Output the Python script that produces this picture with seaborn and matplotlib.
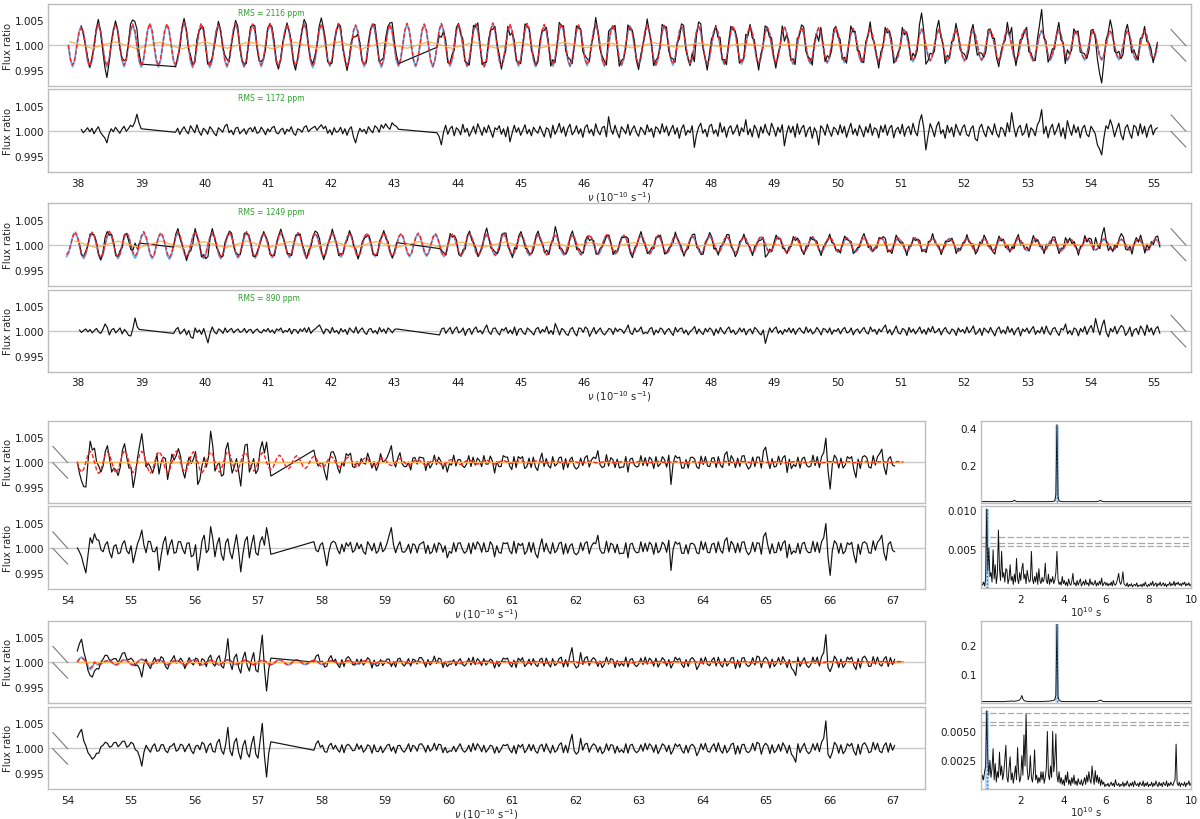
import numpy as np
import matplotlib
matplotlib.use("Agg")
import matplotlib.pyplot as plt
from matplotlib.ticker import MultipleLocator, FormatStrFormatter
import seaborn as sns

sns.set_theme(style="white")
plt.rcParams['font.family'] = ['DejaVu Sans']
plt.rcParams['mathtext.fontset'] = 'dejavusans'

# ==========================================
# DATA  (flux offsets from 1, in units of 1e-4)
# ==========================================
STEP = 0.033875                     # sampling step in nu (10^-10 s^-1)
A_START, C_START, E_START = 37.847, 37.818, 54.151
N_A, N_C, N_E = 509, 511, 385

# sine-fit models: successive extrema and the shoulder value next to each one
red_a_ext = [-40, 36, -42, 44, -41, 42, -40, 43, -42, 44,
             -41, 43, -40, 46, -42, 44, -43, 42, -41, 45,
             -42, 43, -40, 44, -42, 42, -41, 45, -43, 43,
             -40, 44, -42, 41, -41, 45, -42, 42, -40, 44,
             -41, 43, -42, 44, -40, 42, -41, 43, -42, 45,
             -41, 42, -40, 44, -41, 42, -40, 43, -41, 41,
             -39, 42, -40, 41, -39, 40, -38, 41, -39, 40,
             -38, 39, -37, 40, -38, 38, -37, 39, -36, 38,
             -36, 37, -35, 38, -36, 36, -35, 36, -34, 35,
             -33, 34, -33, 33, -32, 34, -31, 32, -31, 33,
             -30, 32, -31, 31, -30, 32, -29, 31, -30, 30,
             -29, 31, -30, 30, -28, 31, -29, 29, -28, 30,
             -28, 29, -27, 30, -28, 29, -27]
red_a_sh = [-28, 26, -30, 31, -29, 30, -28, 31, -30, 31,
            -29, 31, -28, 33, -30, 31, -31, 30, -29, 32,
            -30, 31, -28, 31, -30, 30, -29, 32, -31, 31,
            -28, 31, -30, 29, -29, 32, -30, 30, -28, 31,
            -29, 31, -30, 31, -28, 30, -29, 31, -30, 32,
            -29, 30, -28, 31, -29, 30, -28, 31, -29, 29,
            -28, 30, -28, 29, -28, 28, -27, 29, -28, 28,
            -27, 28, -26, 28, -27, 27, -26, 28, -26, 27,
            -26, 26, -25, 27, -26, 26, -25, 26, -24, 25,
            -23, 24, -23, 23, -23, 24, -22, 23, -22, 23,
            -21, 23, -22, 22, -21, 23, -21, 22, -21, 21,
            -21, 22, -21, 21, -20, 22, -21, 21, -20, 21,
            -20, 21, -19, 21, -20, 21, -19]
blue_a_ext = [-43, 38, -45, 41, -44, 44, -43, 40, -44, 42,
              -44, 41, -43, 44, -45, 42, -45, 40, -44, 43,
              -44, 41, -43, 42, -44, 40, -43, 43, -45, 41,
              -42, 42, -44, 39, -43, 43, -44, 40, -42, 42,
              -43, 41, -44, 42, -42, 40, -43, 41, -44, 43,
              -43, 40, -42, 42, -43, 40, -42, 41, -43, 39,
              -41, 40, -42, 39, -41, 38, -40, 39, -41, 38,
              -40, 37, -39, 38, -40, 36, -39, 37, -38, 36,
              -38, 35, -37, 36, -38, 34, -37, 34, -36, 33,
              -35, 32, -35, 31, -34, 32, -33, 30, -33, 31,
              -32, 30, -33, 29, -32, 30, -31, 29, -32, 28,
              -31, 29, -32, 28, -30, 29, -31, 27, -30, 28,
              -30, 27, -29, 28, -30, 27, -29]
blue_a_sh = [-30, 27, -32, 29, -31, 31, -30, 28, -31, 30,
             -31, 29, -30, 31, -32, 30, -32, 28, -31, 30,
             -31, 29, -30, 30, -31, 28, -30, 30, -32, 29,
             -30, 30, -31, 28, -30, 30, -31, 28, -30, 30,
             -30, 29, -31, 30, -30, 28, -30, 29, -31, 30,
             -30, 28, -30, 30, -30, 28, -30, 29, -30, 28,
             -29, 28, -30, 28, -29, 27, -28, 28, -29, 27,
             -28, 26, -28, 27, -28, 26, -28, 26, -27, 26,
             -27, 25, -26, 26, -27, 24, -26, 24, -26, 23,
             -25, 23, -25, 22, -24, 23, -23, 21, -23, 22,
             -23, 21, -23, 21, -23, 21, -22, 21, -23, 20,
             -22, 21, -23, 20, -21, 21, -22, 19, -21, 20,
             -21, 19, -21, 20, -21, 19, -21]
red_c_ext = [-20, 26, -24, 25, -26, 27, -25, 24, -23, 26,
             -25, 24, -26, 25, -24, 26, -25, 24, -26, 25,
             -24, 26, -25, 23, -24, 25, -23, 24, -25, 23,
             -24, 24, -23, 22, -24, 23, -22, 24, -23, 22,
             -22, 23, -21, 22, -22, 21, -22, 22, -21, 21,
             -21, 22, -20, 21, -21, 20, -20, 21, -19, 20,
             -20, 19, -19, 20, -18, 19, -19, 18, -18, 19,
             -17, 18, -18, 17, -17, 18, -16, 17, -17, 16,
             -16, 17, -15, 16, -16, 15, -15, 16, -14, 15,
             -15, 14, -14, 15, -13, 14, -14, 13, -13, 14,
             -13, 13, -12, 13, -13, 12, -12, 13, -12, 12,
             -12, 13, -11, 12, -12, 11, -12, 12, -11, 12,
             -11, 12, -12, 11, -11, 12, -11, 11]
red_c_sh = [-14, 18, -17, 18, -18, 19, -18, 17, -16, 18,
            -18, 17, -18, 18, -17, 18, -18, 17, -18, 18,
            -17, 18, -18, 16, -17, 18, -16, 17, -18, 16,
            -17, 17, -16, 16, -17, 16, -16, 17, -16, 16,
            -16, 16, -15, 16, -16, 15, -16, 16, -15, 15,
            -15, 16, -14, 15, -15, 14, -14, 15, -13, 14,
            -14, 13, -13, 14, -13, 13, -13, 13, -13, 13,
            -12, 13, -13, 12, -12, 13, -11, 12, -12, 11,
            -11, 12, -11, 11, -11, 11, -11, 11, -10, 11,
            -11, 10, -10, 11, -9, 10, -10, 9, -9, 10,
            -9, 9, -9, 9, -9, 9, -9, 9, -9, 9,
            -9, 9, -8, 9, -9, 8, -9, 9, -8, 9,
            -8, 9, -9, 8, -8, 9, -8, 8]
blue_c_ext = [-24, 22, -28, 22, -29, 23, -28, 22, -27, 22,
              -28, 21, -29, 22, -27, 23, -28, 21, -28, 22,
              -27, 23, -27, 21, -26, 22, -26, 22, -27, 21,
              -26, 22, -25, 21, -25, 21, -24, 22, -25, 21,
              -24, 21, -23, 20, -24, 20, -23, 21, -23, 19,
              -22, 20, -22, 19, -22, 19, -21, 19, -21, 18,
              -21, 18, -20, 18, -19, 18, -20, 17, -19, 17,
              -18, 17, -18, 16, -18, 16, -17, 16, -17, 15,
              -17, 15, -16, 15, -16, 14, -16, 14, -15, 14,
              -15, 13, -15, 13, -14, 13, -14, 12, -14, 12,
              -13, 12, -13, 12, -13, 11, -13, 11, -12, 11,
              -12, 11, -12, 11, -12, 10, -12, 11, -11, 10,
              -11, 10, -11, 10, -11, 10, -11, 10]
blue_c_sh = [-17, 16, -20, 16, -21, 16, -20, 16, -19, 16,
             -20, 15, -21, 16, -19, 16, -20, 15, -20, 16,
             -19, 16, -19, 15, -18, 16, -18, 16, -19, 15,
             -18, 16, -18, 15, -18, 15, -17, 16, -18, 15,
             -17, 15, -16, 14, -17, 14, -16, 15, -16, 13,
             -16, 14, -16, 13, -16, 13, -15, 13, -15, 13,
             -15, 13, -14, 13, -13, 13, -14, 12, -13, 12,
             -13, 12, -13, 11, -13, 11, -12, 11, -12, 11,
             -12, 11, -11, 11, -11, 10, -11, 10, -11, 10,
             -11, 9, -11, 9, -10, 9, -10, 9, -10, 9,
             -9, 9, -9, 9, -9, 8, -9, 8, -9, 8,
             -9, 8, -9, 8, -9, 7, -9, 8, -8, 7,
             -8, 7, -8, 7, -8, 7, -8, 7]
red_e_ext = [-20, 22, -23, 21, -22, 23, -21, 22, -22, 21,
             -21, 22, -20, 21, -21, 20, -20, 21, -19, 20,
             -18, 19, -15, 14, -14, 13, -13, 12, -11, 11,
             -10, 10, -9, 9, -8, 8, -7, 7, -7, 6,
             -6, 6, -5, 5, -5, 4, -4, 4, -4, 3,
             -3, 3, -3, 3, -2, 2, -2, 2, -2, 2,
             -2, 2, -1, 1, -1, 1, -1, 1, -1, 1,
             -1, 1, -1, 1, -1, 1, -1, 1, -1, 1,
             -1, 1, -1, 1, -1, 1, -1, 1, -1, 1,
             -1, 1, -1, 1, -1, 1]
red_e_sh = [-14, 15, -16, 15, -15, 16, -15, 15, -15, 15,
            -15, 15, -14, 15, -15, 14, -14, 15, -13, 14,
            -13, 13, -11, 10, -10, 9, -9, 8, -8, 8,
            -7, 7, -6, 6, -6, 6, -5, 5, -5, 4,
            -4, 4, -4, 4, -4, 3, -3, 3, -3, 2,
            -2, 2, -2, 2, -1, 1, -1, 1, -1, 1,
            -1, 1, -1, 1, -1, 1, -1, 1, -1, 1,
            -1, 1, -1, 1, -1, 1, -1, 1, -1, 1,
            -1, 1, -1, 1, -1, 1, -1, 1, -1, 1,
            -1, 1, -1, 1, -1, 1]
red_g_ext = [8, -12, -4, 3, -5, 5, -6, 6, -5, 5,
             -5, 4, -6, 5, -5, 4, -5, 5, -4, 4,
             -5, 4, -5, 5, -5, 5, -4, 4, -4, 3,
             -3, 3, -3, 3, -3, 2, -3, 2, -2, 2,
             -2, 2, -2, 2, -2, 2, -2, 2, -2, 1,
             -1, 1, -2, 1, -1, 1, -1, 1, -1, 1,
             -1, 1, -1, 1, -1, 1, -1, 1, -1, 1,
             -1, 1, -1, 1, -1, 1, -1, 1, -1, 1,
             -1, 1, -1, 1, -1, 1, -1, 1, -1, 1,
             -1, 1, -1, 1, -1, 1]
red_g_sh = [6, -8, -3, 2, -4, 4, -4, 4, -4, 4,
            -4, 3, -4, 4, -4, 3, -4, 4, -3, 3,
            -4, 3, -4, 4, -4, 4, -3, 3, -3, 2,
            -2, 2, -2, 2, -2, 1, -2, 1, -1, 1,
            -1, 1, -1, 1, -1, 1, -1, 1, -1, 1,
            -1, 1, -1, 1, -1, 1, -1, 1, -1, 1,
            -1, 1, -1, 1, -1, 1, -1, 1, -1, 1,
            -1, 1, -1, 1, -1, 1, -1, 1, -1, 1,
            -1, 1, -1, 1, -1, 1, -1, 1, -1, 1,
            -1, 1, -1, 1, -1, 1]
blue_g_ext = [10, -15, -6, 2, -6, 4, -7, 5, -6, 4,
              -6, 3, -7, 4, -6, 3, -6, 4, -5, 3,
              -6, 3, -6, 4, -6, 4, -5, 3, -5, 2,
              -4, 2, -4, 2, -4, 1, -4, 1, -3, 1,
              -3, 1, -3, 1, -3, 1, -3, 1, -2, 1,
              -2, 0, -2, 0, -2, 0, -2, 0, -2, 0,
              -1, 0, -1, 0, -1, 0, -1, 0, -1, 0,
              -1, 0, -1, 0, -1, 0, -1, 0, -1, 0,
              -1, 0, -1, 0, -1, 0, -1, 0, -1, 0,
              -1, 0, -1, 0, -1, 0]
blue_g_sh = [7, -11, -4, 1, -4, 3, -5, 4, -4, 3,
             -4, 2, -5, 3, -4, 2, -4, 3, -4, 2,
             -4, 2, -4, 3, -4, 3, -4, 2, -4, 1,
             -3, 1, -3, 1, -3, 1, -3, 1, -2, 1,
             -2, 1, -2, 1, -2, 1, -2, 1, -1, 1,
             -1, 0, -1, 0, -1, 0, -1, 0, -1, 0,
             -1, 0, -1, 0, -1, 0, -1, 0, -1, 0,
             -1, 0, -1, 0, -1, 0, -1, 0, -1, 0,
             -1, 0, -1, 0, -1, 0, -1, 0, -1, 0,
             -1, 0, -1, 0, -1, 0]

# slow (orange) component, extrema every half period
ORANGE_A_START, ORANGE_A_STEP = 37.87, 0.355
ORANGE_C_START, ORANGE_C_STEP = 37.95, 0.34
orange_a = [7, -6, 7, -7, 6, -7, 7, -6, 7, -7, 6, -6, 7, -7, 6, -6, 7, -6, 6, -6,
            6, -5, 6, -5, 5, -5, 5, -4, 4, -3, 3, -2, 2, -2, 2, -1, 1, -1, 1, -1,
            1, -1, 1, -1, 1, -1, 1, -1, 1]
orange_c = [7, -6, 7, -6, 7, -7, 6, -6, 7, -6, 6, -6, 6, -6, 6, -5, 6, -5, 5, -5,
            5, -5, 5, -4, 4, -4, 4, -3, 3, -3, 3, -3, 2, -2, 2, -2, 2, -1, 1, -1,
            1, -1, 1, -1, 1, -1, 1, -1, 1, -1, 1]
orange_flat = 0

N_ = None
# residuals after subtracting the model (None = no data)
resid_b = [N_, N_, N_, N_, N_, N_, 3, -4, 1, 6, -2, 5, -6, 2, 8, -3, -9, -14, -24, -6,
           4, -2, 7, 1, -5, 3, 9, -1, 4, 11, 8, 17, 33, 15, 4, N_, N_, N_, N_, N_,
           N_, N_, N_, N_, N_, N_, N_, N_, N_, N_, -3, 5, -7, 2, 8, -1, -6, 10, 3, -4,
           12, -2, -9, 5, 1, -7, 8, 3, -5, -10, 6, 2, -3, 9, 13, -4, 1, -8, 5, 7,
           -6, -1, 4, -7, 3, 6, -2, 8, -5, -3, 7, 1, -8, 4, -2, 6, 9, -4, -6, 2,
           5, -7, 3, -1, 8, -5, -9, 4, 2, -3, 7, 10, -2, 3, 6, 9, 1, 7, 12, 4,
           9, -5, 2, -8, 6, -3, -1, 7, -6, 4, -9, 3, 8, -12, -24, -7, 5, -2, 3, -6,
           8, 1, -4, 10, 6, -3, 12, 5, 14, 7, 3, 16, 11, 9, 3, N_, N_, N_, N_, N_,
           N_, N_, N_, N_, N_, N_, N_, N_, N_, N_, N_, N_, -4, -12, -28, -3, 11, -7, 4, 9,
           -10, 6, 2, -8, 13, -3, 5, -11, -2, 9, -6, 14, 3, -9, 7, -4, 11, -1, -13, 6,
           2, 10, -7, 4, -12, 8, -22, -5, 11, -3, 6, -9, 1, 12, -6, 3, -10, 7, 0, -5,
           9, -2, -12, 6, 3, -14, 11, -7, 2, 15, -4, 8, -11, 5, 13, -8, -2, 10, -6, 4,
           -13, 7, 12, -5, 3, -10, 14, -1, -8, 6, 9, -12, 28, 4, -7, 11, -3, -14, 8, 2,
           -6, 13, -9, 3, 10, -4, -11, 7, 1, -8, 12, -2, 5, -13, 8, 4, -6, 14, -3, 9,
           -10, 2, 11, -7, 6, -15, 4, 12, -9, 1, -4, 10, -33, -8, 7, 15, -5, 3, -12, 9,
           13, -6, 2, -11, 16, -3, 8, -13, 5, 10, -7, 1, 12, -10, 6, -2, 22, -8, 4, -12,
           11, 3, -14, 8, -5, 13, -2, -9, 15, 4, -11, 7, -3, 12, -30, -6, 10, -4, 9, -13,
           14, -7, 5, 11, -12, 2, 8, -15, 6, -3, -28, 10, 4, -9, 13, -1, -11, 7, 3, -8,
           12, -5, 9, -13, 2, 15, -7, 4, -10, 11, 1, -12, 8, -4, 14, -9, 6, 3, -14, 10,
           -3, 12, -9, 5, 11, -14, 2, 7, -6, 13, -11, 4, 9, -8, 15, -2, -10, 18, 32, 6,
           -38, -10, 14, 3, -12, 9, 18, -6, 2, -15, 11, -4, 7, -12, 13, 1, -9, 6, 12, -7,
           -11, 4, 10, -16, -20, 6, 13, -3, -12, 9, 2, -8, 14, -5, -13, 7, 3, -11, 16, -2,
           36, 8, -12, 5, 11, -9, -3, 14, -13, 6, 1, -10, 12, 20, 42, -6, 9, -14, 4, 13,
           -8, 2, 15, -11, 6, -16, 20, 3, -9, 12, -4, 8, -14, 5, 11, -7, -12, 9, 2, -6,
           -28, -36, -48, -15, 10, 4, 22, 9, -12, 3, 15, -8, -18, 6, 12, -4, -15, 11, 7, -10,
           14, -6, 9, -13, 5, 12, -8, 3, 6]
resid_d = [N_, N_, N_, N_, N_, N_, 2, -3, 1, 4, -2, 3, -4, 1, 5, -2, -5, 3, 14, 7,
           -8, 2, 5, -4, 1, 6, -6, 3, -2, -9, -10, 5, 26, 8, 3, N_, N_, N_, N_, N_,
           N_, N_, N_, N_, N_, N_, N_, N_, N_, N_, -5, 3, 7, -6, -2, 4, -8, 1, -12, -15,
           6, -3, 2, -7, 5, -10, -24, -4, 8, -2, -6, 4, 1, -5, 6, -3, 2, 5, -4, 1,
           4, -3, -1, 5, -4, 2, 3, -5, 1, 4, -2, -4, 3, -1, 5, -3, 2, -5, 4, 1,
           6, -4, 1, -2, 5, -6, 3, 2, -5, 4, -1, 6, -3, 7, -5, 1, 4, 8, 12, 3,
           -6, 4, 2, -5, 7, -3, 1, -6, 5, -2, 3, -7, 6, 1, -4, 8, -5, 2, 6, -3,
           -7, 3, 5, -4, 1, -6, 7, -2, 4, -5, 6, 2, -4, 3, 4, N_, N_, N_, N_, N_,
           N_, N_, N_, N_, N_, N_, N_, N_, N_, N_, N_, N_, N_, N_, -8, 4, 6, -5, 2, 7,
           -6, 3, 8, -4, -1, 6, -9, 2, 5, -7, 3, 8, -3, 1, -6, 4, 12, -2, -7, 5,
           6, -3, -8, 4, 1, 7, -5, 2, -6, 8, -9, 3, 5, -4, -7, 6, 2, -3, -8, 4,
           7, -5, 3, -2, 9, -6, 1, -7, 15, 4, -8, 5, 2, -6, -9, 3, 7, -4, -10, 6,
           5, -3, 8, 4, -11, -2, 7, -6, 1, 6, -4, -8, -2, 5, 3, -7, 6, -1, 4, 2,
           -5, 3, 12, -4, -7, 6, -2, 1, 8, -6, -3, -5, 4, 7, -8, 2, -4, 6, 3, -7,
           1, 5, -3, -9, 7, -2, 4, 6, -5, 2, -8, -1, 3, 9, -6, 4, -3, -7, 5, -2,
           6, 2, -9, 4, -5, 7, -1, -6, 3, 8, -4, 2, -7, -3, 6, -2, 5, -8, 1, 4,
           -6, 7, 3, -4, -8, 2, -25, -9, 6, -3, 4, 8, -5, 1, -7, 3, -2, 6, -4, 5,
           -7, 2, 6, -1, -5, 8, -3, 4, -6, -2, 7, 1, -8, 5, 3, -4, 6, -7, 2, -1,
           5, -6, 3, 7, -4, -2, 6, -8, 1, 4, -5, 2, 7, -3, -6, 8, -1, 3, -7, 4,
           -2, 6, 12, -5, 3, -8, 1, 10, -4, -6, 5, 2, -9, 7, -3, 4, -6, 1, 8, -5,
           3, -7, 6, -2, 9, -4, -1, 5, -8, 2, 7, -3, -6, 4, 1, -9, 6, -2, 3, -5,
           8, -4, 2, 10, -7, -3, 5, -9, 6, 1, -4, 7, -2, -10, 3, 8, -5, 2, -6, 9,
           -3, 5, -8, 2, 7, -10, 4, -1, 6, -5, 3, 9, -7, 1, -4, 8, -6, 10, -2, -8,
           4, 7, -3, -9, 5, 2, 14, -6, 1, -8, 6, 3, -10, 5, -2, 9, -7, 4, 11, -3,
           25, 6, -8, 10, 22, -3, -12, 5, -2, 9, -6, 4, 11, 7, -9, -3, 8, -11, 2, 5,
           -7, 10, 3, -9, 12, -2, 6, -8, 4, 9, -5]
resid_f = [0, -8, -18, -35, -50, -14, 20, 9, 28, 16, 15, -4, -8, 6, 12, -9, -20, 3, 6, -12,
           -10, 8, 14, -6, -12, 4, -30, -11, 8, 19, 35, 5, -10, 13, 12, -7, -8, 2, -45, -15,
           10, 22, -14, 5, 16, -11, -9, 12, 12, -3, -12, 9, 10, -18, -15, 6, -45, -20, 14, 25,
           -10, -4, 42, 18, -18, 7, 20, -14, -25, 10, 18, -9, -22, 3, 26, -6, -48, -12, 14, 22,
           -20, 6, 25, -10, -15, 12, 22, 5, 40, 16, -13, N_, N_, N_, N_, N_, N_, N_, N_, N_,
           N_, N_, N_, N_, N_, N_, N_, N_, N_, N_, 12, -5, -8, 6, 10, -12, -36, -8, 9, 13,
           10, -4, -12, 7, -8, 10, 3, 11, -9, -5, 10, -2, 7, -8, -13, 12, 4, -6, 9, -11,
           -6, 11, -8, -3, 9, 25, 40, 6, -10, 3, 12, -8, -9, -4, 7, -11, 8, 5, -10, 6,
           9, 12, -11, 5, -12, -8, 8, -9, 10, 6, -9, 4, -20, -7, -11, 10, -8, 9, 10, -3,
           -11, -7, 9, -12, 10, -3, 12, 6, -9, 10, -8, -7, 12, 5, -18, 4, -9, -11, 10, 8,
           10, -6, -12, 13, -11, 9, 4, 9, -13, -7, 11, -9, 10, -12, -20, 2, 18, -8, 9, -6,
           -12, 10, -10, -5, 9, 11, -13, 8, -11, 4, 8, -10, -14, -9, 10, -6, 9, 12, -12, 3,
           10, 8, 25, -4, -11, -10, 13, -9, 9, 6, -10, 7, -12, -11, -11, 10, -20, 7, 9, -5,
           -10, -9, 12, -8, 9, -7, 11, 6, -13, 10, -10, -5, 11, 6, -9, 15, -45, -3, 12, 7,
           10, -11, -11, 6, -12, 8, 9, 5, -10, -12, 13, -4, 11, -9, -10, 7, 9, -10, 12, -5,
           -11, 14, 20, -8, 13, 6, -10, 9, -9, 11, 12, -6, -14, -8, 11, -8, 10, 9, -13, 22,
           30, 5, -12, 8, -10, -9, 11, -6, 9, 14, -20, 7, -13, -6, -10, 9, -12, 8, 11, -5,
           -10, -9, 13, -8, 11, -10, 12, 20, 48, -18, -55, -6, 14, 8, -11, 9, -12, -7, 10, 6,
           11, -14, -30, 7, -13, 9, 12, 8, -10, -11, 14, -5, 11, 16, 25, -10, -25, 7, 12, -5,
           -8, N_, N_, N_, N_]
resid_h = [22, 31, 38, 15, 5, -9, -15, -22, -18, -10, -10, 3, 6, 12, 10, 2, 4, 11, 12, 3,
           8, 14, 14, 2, 5, 12, 9, -3, -6, -18, -36, -8, 6, -2, -8, 4, 9, -6, -5, 7,
           7, -5, -9, 3, 5, 10, -6, -3, 8, 6, -7, 2, 9, -5, -11, 4, 6, -3, 12, 8,
           -9, 5, 10, -6, -8, 11, 18, -4, -12, 8, 42, -5, -15, 12, 20, -8, -22, 5, 16, -10,
           -18, 8, 24, -12, -20, 15, 50, -15, -58, -10, 13, N_, N_, N_, N_, N_, N_, N_, N_, N_,
           N_, N_, N_, N_, N_, N_, N_, N_, N_, N_, -4, 9, 15, 2, 6, -7, -8, 5, 10, -2,
           6, -3, -8, 7, -9, 5, 8, 3, -5, -4, 9, -2, 6, -8, -3, 7, 4, -10, 7, -6,
           -7, 4, -9, -2, 6, 8, -6, 3, -10, 5, 6, -4, -8, -1, 9, -7, 6, 3, -6, 8,
           9, 3, -8, 6, -6, -2, 10, -4, 8, 7, -9, 2, -9, -5, -6, 4, -7, 2, 9, -3,
           -8, -4, 6, -7, 10, -4, 9, 3, -7, 6, -8, -2, 6, 4, -10, 3, -9, -2, 7, 5,
           8, -3, -9, 5, -11, 7, 2, 8, -9, -3, 8, -5, 7, -6, -10, 4, 8, -7, 9, -2,
           -10, 6, -8, -4, 7, 11, -9, 6, -9, 12, 28, -5, -12, -7, 20, -4, 8, 10, -8, 3,
           9, 5, -8, 3, -11, -6, 9, -5, 7, 6, -10, 4, -8, -3, -9, 9, -10, 6, 8, -4,
           -9, -5, 7, -6, 10, -3, 9, 4, -8, 7, -11, -2, 9, 5, -7, 6, -12, -4, 9, 3,
           8, -4, -10, 6, -9, 5, 8, 2, -15, -6, 9, -3, 10, -6, -8, 3, 9, -7, 11, -4,
           -10, 6, -9, -3, 8, 10, -12, 5, -11, 7, 8, -6, -9, -4, 10, -5, 12, 9, -12, 4,
           10, 5, -11, 7, -9, -4, 8, -6, 11, 3, -10, 6, -12, -18, -28, 9, -9, 2, 10, -5,
           -11, -6, 9, -4, 10, -7, 12, 20, 55, -12, -20, -8, 12, 6, -10, 7, -11, -5, 9, 4,
           10, -6, -14, 8, -12, 7, 11, 4, -9, -7, 12, -3, 10, -6, -9, 5, 11, -8, 10, -4,
           6, N_, N_, N_, N_]
rms_ppm = [2116, 1172, 1249, 890]

# periodograms: period grid (10^10 s) and power
P_START, P_STEP, N_P = 0.15, 0.05, 198
pow_1 = [1, 1, 1, 2, 1, 1, 1, 1, 1, 1, 1, 1, 1, 1, 1, 1, 1, 1, 1, 1,
         1, 1, 1, 1, 1, 1, 1, 1, 2, 2, 4, 9, 4, 2, 1, 1, 1, 1, 1, 1,
         1, 1, 1, 1, 1, 1, 1, 1, 1, 1, 1, 1, 1, 1, 1, 1, 1, 1, 1, 1,
         1, 1, 1, 1, 1, 2, 2, 2, 3, 6, 40, 420, 30, 5, 3, 2, 1, 1, 1, 1,
         1, 1, 1, 1, 1, 1, 1, 1, 1, 1, 1, 1, 1, 1, 1, 1, 1, 1, 1, 1,
         1, 1, 1, 1, 1, 1, 1, 1, 1, 2, 3, 5, 8, 4, 2, 1, 1, 1, 1, 1,
         1, 1, 1, 1, 1, 1, 1, 1, 1, 1, 1, 1, 1, 1, 1, 1, 1, 1, 1, 1,
         1, 1, 1, 1, 1, 1, 1, 1, 1, 1, 1, 1, 1, 1, 1, 1, 1, 1, 1, 1,
         1, 1, 1, 1, 1, 1, 1, 1, 1, 1, 1, 1, 1, 1, 1, 1, 1, 1, 1, 1,
         1, 1, 1, 1, 1, 1, 1, 1, 1, 1, 1, 1, 1, 1, 1, 1, 1, 1]          # 1e-3
pow_2 = [6, 4, 8, 3, 12, 101, 22, 52, 15, 20, 8, 49, 12, 30, 6, 18, 74, 25, 10, 47,
         14, 20, 8, 25, 23, 6, 12, 30, 10, 15, 5, 18, 8, 38, 12, 6, 20, 10, 25, 32,
         12, 18, 6, 23, 14, 8, 10, 47, 12, 6, 15, 8, 20, 5, 25, 10, 6, 14, 8, 12,
         32, 10, 6, 18, 5, 12, 8, 15, 6, 10, 20, 47, 12, 5, 8, 4, 15, 6, 10, 4,
         8, 3, 12, 6, 4, 9, 19, 5, 7, 3, 10, 4, 8, 12, 3, 6, 9, 4, 11, 5,
         7, 3, 12, 5, 8, 4, 6, 10, 3, 7, 4, 9, 5, 13, 3, 6, 8, 4, 7, 3,
         6, 4, 8, 3, 10, 5, 4, 7, 12, 19, 8, 5, 10, 21, 6, 4, 3, 7, 2, 5,
         3, 6, 2, 4, 5, 3, 7, 2, 4, 3, 5, 2, 6, 3, 8, 4, 2, 5, 3, 7,
         4, 9, 3, 5, 7, 2, 6, 4, 8, 3, 5, 7, 3, 6, 2, 5, 4, 8, 3, 6,
         4, 9, 3, 7, 5, 8, 4, 6, 3, 7, 5, 8, 3, 6, 4, 7, 3, 5]          # 1e-4
pow_3 = [3, 3, 3, 3, 3, 3, 3, 3, 3, 3, 3, 3, 3, 3, 3, 3, 3, 3, 3, 3,
         3, 3, 3, 3, 4, 4, 4, 4, 5, 5, 4, 4, 5, 5, 6, 7, 9, 14, 24, 12,
         7, 5, 4, 4, 3, 3, 3, 3, 3, 3, 3, 3, 3, 3, 3, 3, 3, 3, 3, 4,
         4, 4, 4, 4, 5, 5, 6, 6, 7, 10, 25, 270, 20, 8, 5, 4, 3, 3, 3, 3,
         3, 3, 3, 3, 3, 3, 3, 3, 3, 3, 3, 3, 3, 3, 3, 3, 3, 3, 3, 3,
         3, 3, 3, 3, 3, 3, 3, 3, 3, 4, 5, 7, 8, 6, 4, 3, 3, 3, 3, 3,
         3, 3, 3, 3, 3, 3, 3, 3, 3, 3, 3, 3, 3, 3, 3, 3, 3, 3, 3, 3,
         3, 3, 3, 3, 3, 3, 3, 3, 3, 3, 3, 3, 3, 3, 3, 3, 3, 3, 3, 3,
         3, 3, 3, 3, 3, 3, 3, 3, 3, 3, 3, 3, 3, 3, 3, 3, 3, 3, 3, 3,
         3, 3, 3, 3, 3, 3, 3, 3, 3, 3, 3, 3, 3, 3, 3, 3, 3, 3]          # 1e-3
pow_4 = [5, 12, 8, 15, 20, 68, 26, 12, 25, 10, 18, 35, 8, 22, 6, 15, 10, 32, 12, 20,
         8, 14, 25, 38, 10, 6, 18, 28, 8, 14, 5, 12, 20, 8, 36, 15, 6, 10, 29, 12,
         47, 20, 65, 18, 8, 12, 29, 10, 6, 15, 34, 8, 12, 5, 10, 6, 15, 8, 15, 5,
         10, 18, 50, 12, 8, 20, 10, 50, 15, 25, 48, 12, 6, 15, 5, 10, 4, 8, 3, 12,
         6, 15, 4, 8, 3, 10, 5, 12, 4, 7, 3, 9, 5, 4, 8, 3, 6, 10, 4, 12,
         6, 15, 8, 5, 20, 10, 4, 16, 6, 12, 5, 10, 3, 8, 4, 6, 2, 4, 3, 5,
         2, 4, 6, 3, 5, 2, 8, 4, 3, 5, 2, 4, 3, 6, 2, 5, 3, 7, 4, 2,
         5, 3, 6, 2, 7, 4, 3, 5, 2, 6, 4, 3, 7, 2, 5, 3, 6, 2, 4, 3,
         6, 2, 5, 3, 7, 4, 2, 6, 3, 5, 2, 6, 4, 3, 7, 2, 5, 3, 6, 4,
         3, 6, 8, 39, 5, 3, 6, 2, 5, 4, 3, 6, 2, 5, 4, 7, 3, 5]          # 1e-4
fap_2 = [0.00649, 0.00573, 0.00542]
fap_4 = [0.00659, 0.00581, 0.00552]

# ==========================================
# BUILD SERIES
# ==========================================
t_a = A_START + STEP * np.arange(N_A)
t_c = C_START + STEP * np.arange(N_C)
t_e = E_START + STEP * np.arange(N_E)
t_oa = ORANGE_A_START + ORANGE_A_STEP * np.arange(len(orange_a))
t_oc = ORANGE_C_START + ORANGE_C_STEP * np.arange(len(orange_c))
pgrid = P_START + P_STEP * np.arange(N_P)


def model_on_grid(n, ext, sh, first):
    # extremum every 4th sample, shoulder on either side, crossing in between
    arr = np.zeros(n)
    ext, sh = np.asarray(ext, float), np.asarray(sh, float)
    arr[first::4] = ext
    arr[first + 1::4] = sh[:arr[first + 1::4].size]
    if first > 0:
        arr[first - 1::4] = sh[:arr[first - 1::4].size]
    else:
        arr[3::4] = sh[1:1 + arr[3::4].size]
    return arr


red_a = model_on_grid(N_A, red_a_ext, red_a_sh, 2)
blue_a = model_on_grid(N_A, blue_a_ext, blue_a_sh, 2)
red_c = model_on_grid(N_C, red_c_ext, red_c_sh, 0)
blue_c = model_on_grid(N_C, blue_c_ext, blue_c_sh, 0)
red_e = model_on_grid(N_E, red_e_ext, red_e_sh, 2)
red_g = model_on_grid(N_E, red_g_ext, red_g_sh, 2)
blue_g = model_on_grid(N_E, blue_g_ext, blue_g_sh, 2)

res_b = np.array(resid_b, dtype=float)
res_d = np.array(resid_d, dtype=float)
res_f = np.array(resid_f, dtype=float)
res_h = np.array(resid_h, dtype=float)

# ==========================================
# FIGURE
# ==========================================
fig = plt.figure(figsize=(12, 8.2), dpi=100)

TOP_XLIM = (37.526, 55.586)
BOT_XLIM = (53.69, 67.50)
YLIM = (0.9918, 1.0083)
EDGE = '#bdbdbd'
TICKFS, LABFS = 7.5, 7.2

BLACK = dict(color='#111111', linewidth=0.85)
BLUE = dict(color='#62aef0', lw=1.3, zorder=1.5)
RED = dict(color='#ff2222', lw=1.0, ls=(0, (3, 1.5)), zorder=4)
ORANGE = dict(color='#f9b85a', lw=1.0, zorder=3.5)


def flux(v):
    return 1 + np.asarray(v, dtype=float) * 1e-4


def style(ax, xlim, ylim, show_x):
    ax.set_xlim(*xlim)
    ax.set_ylim(*ylim)
    for s in ax.spines.values():
        s.set_color(EDGE)
        s.set_linewidth(1.0)
    ax.tick_params(axis='both', which='both', colors='#9a9a9a', labelcolor='#1a1a1a',
                   labelsize=TICKFS, width=0.8)
    ax.tick_params(axis='y', length=0, pad=2.5)
    ax.tick_params(axis='x', which='major', length=2.5, pad=1.5)
    ax.tick_params(axis='x', which='minor', length=2)
    ax.tick_params(axis='x', labelbottom=show_x)


def flux_panel(rect, xlim, t, data, models, rms=None, show_x=False, brk='right'):
    ax = fig.add_axes(rect)
    ax.axhline(1.0, color='#c9c9c9', lw=1.0, zorder=0)
    y = flux(data)
    m = ~np.isnan(y)
    sns.lineplot(x=t[m], y=y[m], ax=ax, estimator=None, sort=False, zorder=2, **BLACK)
    for tm, vm, kw in models:
        ax.plot(tm, flux(vm), **kw)
    style(ax, xlim, YLIM, show_x)
    ax.set_yticks([0.995, 1.0, 1.005])
    ax.yaxis.set_major_formatter(FormatStrFormatter('%.3f'))
    ax.xaxis.set_major_locator(MultipleLocator(1))
    ax.xaxis.set_minor_locator(MultipleLocator(0.5))
    ax.set_ylabel('Flux ratio', fontsize=LABFS, labelpad=1)
    ax.set_xlabel(r'$\nu$ (10$^{-10}$ s$^{-1}$)' if show_x else '', fontsize=LABFS, labelpad=1)
    if rms is not None:
        ax.text(0.166, 0.90, f'RMS = {rms} ppm', transform=ax.transAxes, color='#2ca02c',
                fontsize=5.5, ha='left', va='center')
    xs = (0.9825, 0.9956) if brk == 'right' else (0.0054, 0.0225)
    for y0, y1 in ((0.69, 0.49), (0.49, 0.30)):
        ax.plot(xs, (y0, y1), transform=ax.transAxes, color='#7a7a7a', lw=0.8, clip_on=False)
    return ax


def pgram_panel(rect, power, scale, ylim, yticks, fmt, fap=None, show_x=False):
    ax = fig.add_axes(rect)
    p = np.asarray(power, dtype=float) * scale
    sns.lineplot(x=pgrid, y=p, ax=ax, estimator=None, sort=False, zorder=2,
                 color='#111111', linewidth=0.7)
    i = int(np.argmax(p))
    ax.vlines(pgrid[i], 0, p[i], color='#8cc4f0', lw=3, alpha=0.6, zorder=1)
    ax.vlines(pgrid[i], 0, p[i], color='#1f6fb4', lw=1.0, ls=':', zorder=3)
    for level in (fap or []):
        ax.axhline(level, color='#a8a8a8', lw=0.9, ls=(0, (5, 2)), zorder=1)
    style(ax, (0.12, 10), ylim, show_x)
    ax.set_xticks([2, 4, 6, 8, 10])
    ax.set_yticks(yticks)
    ax.yaxis.set_major_formatter(FormatStrFormatter(fmt))
    ax.tick_params(axis='y', pad=3)
    ax.set_ylabel('')
    ax.set_xlabel('10$^{10}$ s' if show_x else '', fontsize=LABFS, labelpad=0)
    return ax


# upper block: nu 38 - 55
flux_panel([0.04, 0.8939, 0.9525, 0.1000], TOP_XLIM, t_a, red_a + res_b,
           [(t_a, blue_a, BLUE), (t_a, red_a, RED), (t_oa, orange_a, ORANGE)], rms=rms_ppm[0])
flux_panel([0.04, 0.7890, 0.9525, 0.1012], TOP_XLIM, t_a, res_b, [], rms=rms_ppm[1], show_x=True)
flux_panel([0.04, 0.6504, 0.9525, 0.1008], TOP_XLIM, t_c, red_c + res_d,
           [(t_c, blue_c, BLUE), (t_c, red_c, RED), (t_oc, orange_c, ORANGE)], rms=rms_ppm[2])
flux_panel([0.04, 0.5455, 0.9525, 0.1000], TOP_XLIM, t_c, res_d, [], rms=rms_ppm[3], show_x=True)

# lower block: nu 54 - 67
flat = np.full(2, orange_flat)
t_flat = t_e[[0, -1]]
flux_panel([0.04, 0.3854, 0.7308, 0.1003], BOT_XLIM, t_e, red_e + res_f,
           [(t_flat, flat, ORANGE), (t_e, red_e, RED)], brk='left')
flux_panel([0.04, 0.2805, 0.7308, 0.1012], BOT_XLIM, t_e, res_f, [], show_x=True, brk='left')
flux_panel([0.04, 0.1415, 0.7308, 0.1003], BOT_XLIM, t_e, red_g + res_h,
           [(t_e, blue_g, BLUE), (t_flat, flat, ORANGE), (t_e, red_g, RED)], brk='left')
flux_panel([0.04, 0.0366, 0.7308, 0.1000], BOT_XLIM, t_e, res_h, [], show_x=True, brk='left')

# periodograms
pgram_panel([0.8173, 0.3850, 0.1752, 0.1007], pow_1, 1e-3, (-0.008, 0.441), [0.2, 0.4], '%.1f')
pgram_panel([0.8173, 0.2813, 0.1752, 0.1007], pow_2, 1e-4, (0, 0.0105), [0.005, 0.010], '%.3f',
            fap=fap_2, show_x=True)
pgram_panel([0.8173, 0.1411, 0.1752, 0.1007], pow_3, 1e-3, (-0.003, 0.283), [0.1, 0.2], '%.1f')
pgram_panel([0.8173, 0.0366, 0.1752, 0.0996], pow_4, 1e-4, (0, 0.0071), [0.0025, 0.0050], '%.4f',
            fap=fap_4, show_x=True)

fig.savefig('out.png', dpi=100)
